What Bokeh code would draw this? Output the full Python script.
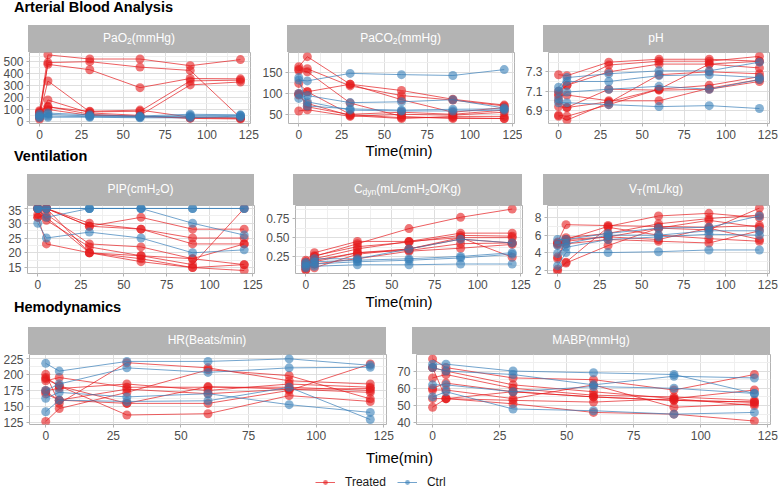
from bokeh.plotting import figure
from bokeh.models import FixedTicker, Div, Legend, LegendItem, Label, NumeralTickFormatter
from bokeh.layouts import column, row
from bokeh.embed import file_html
from bokeh.resources import INLINE

# ---------------- data ----------------
TIME_MIN = [0, 5, 30, 60, 90, 120]
GROUPS = ["Treated", "Ctrl"]
COLORS = {"Treated": "#E41A1C", "Ctrl": "#377EB8"}
X_TICKS = [0, 25, 50, 75, 100, 125]
X_MINOR = [12.5, 37.5, 62.5, 87.5, 112.5]
SECTION_TITLES = ["Arterial Blood Analysis", "Ventilation", "Hemodynamics"]
X_TITLE = "Time(min)"

PAO2_TREATED = [[60, 560, 525, 525, 469, 520], [40, 495, 503, 457, 429, 30],
                [80, 480, 435, 284, 361, 358], [50, 340, 80, 85, 341, 347],
                [30, 180, 71, 50, 307, 332], [90, 125, 60, 40, 30, 25],
                [20, 120, 85, 95, 35, 30], [70, 100, 50, 45, 25, 20]]
PAO2_CTRL = [[45, 70, 55, 45, 60, 55], [30, 45, 40, 35, 50, 50],
             [40, 60, 45, 40, 40, 35], [60, 35, 35, 30, 30, 45]]

PACO2_TREATED = [[164, 188, 122, 107, 86, 72], [158, 159, 118, 95, 84, 70],
                 [155, 152, 77, 45, 40, 40], [124, 104, 122, 85, 55, 66],
                 [98, 104, 50, 55, 50, 60], [96, 76, 47, 40, 45, 45],
                 [58, 61, 45, 50, 48, 55], [100, 68, 49, 42, 42, 40]]
PACO2_CTRL = [[132, 130, 148, 145, 143, 157], [88, 95, 78, 80, 85, 65],
              [138, 70, 63, 60, 62, 63], [100, 80, 60, 58, 58, 60]]

PH_TREATED = [[7.27, 7.26, 7.40, 7.43, 7.43, 7.41], [7.10, 7.16, 7.37, 7.41, 7.41, 7.46],
              [7.07, 7.16, 7.30, 7.38, 7.38, 7.34], [7.05, 7.06, 7.00, 7.00, 7.13, 7.22],
              [7.00, 6.93, 6.99, 7.12, 7.16, 7.25], [6.94, 6.93, 7.12, 7.11, 7.12, 7.20],
              [6.85, 6.84, 6.96, 7.12, 7.38, 7.41], [6.84, 6.80, 6.98, 7.27, 7.30, 7.28]]
PH_CTRL = [[7.14, 7.24, 7.28, 7.31, 7.31, 7.40], [7.10, 7.20, 7.20, 7.26, 7.27, 7.24],
           [7.02, 7.09, 7.12, 7.15, 7.12, 7.22], [6.98, 6.98, 6.96, 6.94, 6.95, 6.92]]

PIP_TREATED = [[35, 35, 30, 28, 25, 25], [35, 35, 29, 32, 28, 28],
               [33, 35, 29, 28, 23, 23], [32, 33, 23, 22, 18, 16],
               [35, 31, 22, 19, 16, 35], [35, 35, 20, 18, 15, 14],
               [32, 23, 20, 17, 15, 16], [35, 32, 20, 19, 18, 23]]
PIP_CTRL = [[35, 35, 35, 35, 35, 35], [30, 25, 27, 25, 20, 21],
            [35, 32, 35, 35, 30, 26], [35, 35, 35, 35, 35, 35]]

CDYN_TREATED = [[0.10, 0.25, 0.42, 0.62, 0.77, 0.88], [0.20, 0.30, 0.45, 0.45, 0.56, 0.56],
                [0.16, 0.26, 0.38, 0.44, 0.53, 0.52], [0.12, 0.22, 0.35, 0.45, 0.50, 0.50],
                [0.08, 0.20, 0.30, 0.35, 0.50, 0.24], [0.07, 0.18, 0.30, 0.33, 0.42, 0.43],
                [0.18, 0.15, 0.22, 0.32, 0.36, 0.41], [0.14, 0.10, 0.28, 0.35, 0.48, 0.43]]
CDYN_CTRL = [[0.15, 0.22, 0.22, 0.35, 0.48, 0.43], [0.12, 0.18, 0.20, 0.22, 0.25, 0.30],
             [0.10, 0.15, 0.18, 0.20, 0.23, 0.28], [0.17, 0.12, 0.14, 0.14, 0.15, 0.15]]

VT_TREATED = [[5.2, 7.2, 7.1, 7.0, 6.9, 7.1], [5.0, 5.7, 6.2, 7.3, 7.9, 8.3],
              [3.5, 5.5, 7.0, 8.2, 8.5, 8.0], [3.3, 5.3, 5.8, 6.8, 6.6, 9.1],
              [2.1, 2.9, 6.9, 6.0, 5.6, 5.3], [1.9, 2.8, 4.8, 6.8, 7.7, 6.9],
              [5.1, 5.0, 5.5, 5.3, 5.1, 6.5], [4.9, 5.5, 5.8, 5.5, 6.8, 5.5]]
VT_CTRL = [[5.5, 5.5, 6.2, 6.8, 6.9, 8.2], [4.8, 5.0, 6.0, 6.0, 6.5, 6.5],
           [3.9, 4.6, 5.5, 5.8, 6.1, 6.0], [2.5, 4.0, 4.0, 4.1, 4.3, 4.3]]

HR_TREATED = [[200, 155, 218, 210, 190, 185], [193, 182, 155, 155, 175, 216],
              [190, 195, 180, 180, 180, 175], [175, 178, 185, 175, 185, 180],
              [170, 160, 177, 170, 177, 172], [127, 147, 172, 207, 198, 162],
              [195, 182, 137, 139, 167, 158], [173, 160, 155, 181, 177, 178]]
HR_CTRL = [[217, 205, 220, 220, 224, 214], [175, 185, 210, 203, 210, 211],
           [163, 172, 165, 170, 153, 141], [142, 160, 158, 159, 180, 130]]

MABP_TREATED = [[77, 72, 66, 65, 59, 68], [72, 70, 62, 58, 54, 59],
                [66, 68, 60, 56, 55, 53], [60, 63, 58, 55, 53, 52],
                [59, 59, 54, 62, 49, 51], [54, 54, 53, 52, 54, 50],
                [49, 54, 51, 46, 45, 41], [72, 54, 58, 55, 53, 52]]
MABP_CTRL = [[74, 74, 70, 69, 68, 57], [72, 70, 68, 62, 67, 66],
             [62, 62, 58, 61, 60, 57], [55, 58, 48, 47, 45, 46]]

# ---------------- styling / layout ----------------
FONT = "Liberation Sans"
CSS_FONT = "'Liberation Sans', Arial, sans-serif"
TOTAL_W = 778
BOTTOM = 20
POINT_SIZE = 9
SUB = '<sub style="font-size:8.5px;line-height:0;vertical-align:-2px">{}</sub>'


def make_panel(left, frame_w, right, frame_h, y_range, y_ticks, y_minor, y_fmt, treated, ctrl):
    p = figure(width=left + frame_w + right, height=frame_h + BOTTOM,
               x_range=(-6, 126), y_range=y_range, output_backend="svg",
               toolbar_location=None, title=None,
               min_border_left=left, min_border_right=right,
               min_border_top=0, min_border_bottom=BOTTOM)
    p.outline_line_color = "#B3B3B3"
    p.outline_line_width = 1
    xt = FixedTicker(ticks=X_TICKS, minor_ticks=X_MINOR)
    yt = FixedTicker(ticks=y_ticks, minor_ticks=y_minor)
    p.xaxis.ticker = xt
    p.yaxis.ticker = yt
    p.xgrid.ticker = xt
    p.ygrid.ticker = yt
    p.yaxis.formatter = NumeralTickFormatter(format=y_fmt)
    p.xaxis.formatter = NumeralTickFormatter(format="0")
    for ax in (p.xaxis[0], p.yaxis[0]):
        ax.axis_line_color = None
        ax.major_tick_line_color = "#B3B3B3"
        ax.major_tick_in = 0
        ax.major_tick_out = 3
        ax.minor_tick_line_color = None
        ax.major_label_text_color = "#4D4D4D"
        ax.major_label_text_font = FONT
        ax.major_label_text_font_size = "12px"
        ax.major_label_standoff = 2
    p.grid.grid_line_color = "#DEDEDE"
    p.grid.grid_line_width = 1
    p.grid.minor_grid_line_color = "#EFEFEF"
    p.grid.minor_grid_line_width = 1
    for grp, series in (("Treated", treated), ("Ctrl", ctrl)):
        c = COLORS[grp]
        for vals in series:
            p.line(TIME_MIN, vals, line_color=c, line_alpha=0.7, line_width=1)
            p.scatter(TIME_MIN, vals, size=POINT_SIZE, marker="circle",
                      fill_color=c, fill_alpha=0.6, line_color=None)
    return p


def heading(text, top):
    return (f'<div style="position:absolute;left:14px;top:{top}px;font-size:14.5px;'
            f'line-height:14.5px;font-weight:bold;color:#000;white-space:nowrap;">{text}</div>')


def xtitle(top):
    return (f'<div style="position:absolute;left:299px;width:200px;top:{top}px;font-size:15px;'
            f'line-height:15px;text-align:center;color:#000;white-space:nowrap;">{X_TITLE}</div>')


def strip(label, x, top, w, h):
    return (f'<div style="position:absolute;left:{x}px;top:{top}px;width:{w}px;height:{h}px;'
            f'background:#B3B3B3;color:#FFFFFF;font-size:12px;line-height:{h}px;'
            f'text-align:center;white-space:nowrap;">{label}</div>')


def band(height, parts):
    html = (f'<div style="position:relative;width:{TOTAL_W}px;height:{height}px;'
            f'font-family:{CSS_FONT};">' + "".join(parts) + "</div>")
    return Div(text=html, width=TOTAL_W, height=height, margin=0)


# panel specs: (strip label, left, frame_w, right, y_range, ticks, minor, fmt, treated, ctrl)
ROW1 = [
    ("PaO" + SUB.format("2") + "(mmHg)", 28, 222, 9, (-18, 580), [0, 100, 200, 300, 400, 500],
     [50, 150, 250, 350, 450, 550], "0", PAO2_TREATED, PAO2_CTRL),
    ("PaCO" + SUB.format("2") + "(mmHg)", 28, 227, 8, (28, 198), [50, 100, 150],
     [75, 125, 175], "0", PACO2_TREATED, PACO2_CTRL),
    ("pH", 21, 226, 9, (6.765, 7.50), [6.9, 7.1, 7.3], [6.8, 7.0, 7.2, 7.4], "0.0",
     PH_TREATED, PH_CTRL),
]
ROW2 = [
    ("PIP(cmH" + SUB.format("2") + "O)", 27, 227, 9, (13.0, 36.0), [15, 20, 25, 30, 35],
     [17.5, 22.5, 27.5, 32.5], "0", PIP_TREATED, PIP_CTRL),
    ("C" + SUB.format("dyn") + "(mL/cmH" + SUB.format("2") + "O/Kg)", 30, 229, 9, (0.024, 0.927),
     [0.25, 0.5, 0.75], [0.125, 0.375, 0.625, 0.875], "0.00", CDYN_TREATED, CDYN_CTRL),
    ("V" + SUB.format("T") + "(mL/kg)", 12, 226, 9, (1.6, 9.4), [2, 4, 6, 8], [3, 5, 7, 9], "0",
     VT_TREATED, VT_CTRL),
]
ROW3 = [
    ("HR(Beats/min)", 28, 358, 8, (122.3, 230.7), [125, 150, 175, 200, 225],
     [137.5, 162.5, 187.5, 212.5], "0", HR_TREATED, HR_CTRL),
    ("MABP(mmHg)", 18, 358, 8, (39, 79.6), [40, 50, 60, 70], [45, 55, 65, 75], "0",
     MABP_TREATED, MABP_CTRL),
]


def build_row(specs, frame_h):
    figs, strips_pos = [], []
    x0 = 0
    for (lab, L, W, R, yr, yt, ym, fmt, tr, ct) in specs:
        figs.append(make_panel(L, W, R, frame_h, yr, yt, ym, fmt, tr, ct))
        strips_pos.append((lab, x0 + L, W))
        x0 += L + W + R
    return row(*figs, spacing=0), strips_pos


row1, s1 = build_row(ROW1, 71)
row2, s2 = build_row(ROW2, 68)
row3, s3 = build_row(ROW3, 70)

bandA = band(52, [heading(SECTION_TITLES[0], 0)] + [strip(l, x, 25, w, 27) for l, x, w in s1])
bandB = band(62, [xtitle(0), heading(SECTION_TITLES[1], 6)] + [strip(l, x, 31, w, 31) for l, x, w in s2])
bandC = band(61, [xtitle(1), heading(SECTION_TITLES[2], 7)] + [strip(l, x, 34, w, 27) for l, x, w in s3])

# bottom band: x title + legend
leg = figure(width=TOTAL_W, height=46, x_range=(0, 1), y_range=(0, 1),
             x_axis_type=None, y_axis_type=None, toolbar_location=None,
             output_backend="svg", title=None, min_border=0)
leg.outline_line_color = None
leg.add_layout(Label(x=399, y=33.5, x_units="screen", y_units="screen", text=X_TITLE,
                     text_align="center", text_baseline="alphabetic",
                     text_font=FONT, text_font_size="15px", text_color="#000000"))
items = []
for grp in GROUPS:
    c = COLORS[grp]
    # legend-key renderers: one off-screen key point each (outside the 0..1 ranges)
    r1 = leg.line(x=[-5, -4], y=[-5, -4], line_color=c, line_alpha=0.7, line_width=1)
    r2 = leg.scatter(x=[-5], y=[-5], size=POINT_SIZE, marker="circle", fill_color=c,
                     fill_alpha=0.6, line_color=None)
    items.append(LegendItem(label=grp, renderers=[r1, r2]))
legend = Legend(items=items, orientation="horizontal", location=(315, 1),
                padding=0, margin=0, spacing=11, label_standoff=10,
                glyph_width=20, glyph_height=12, label_height=12,
                label_text_font=FONT, label_text_font_size="12px",
                label_text_color="#1A1A1A", border_line_color=None,
                background_fill_alpha=0)
leg.add_layout(legend)

root = column(bandA, row1, bandB, row2, bandC, row3, leg, spacing=0)

open("out.html", "w").write(file_html(root, INLINE))
